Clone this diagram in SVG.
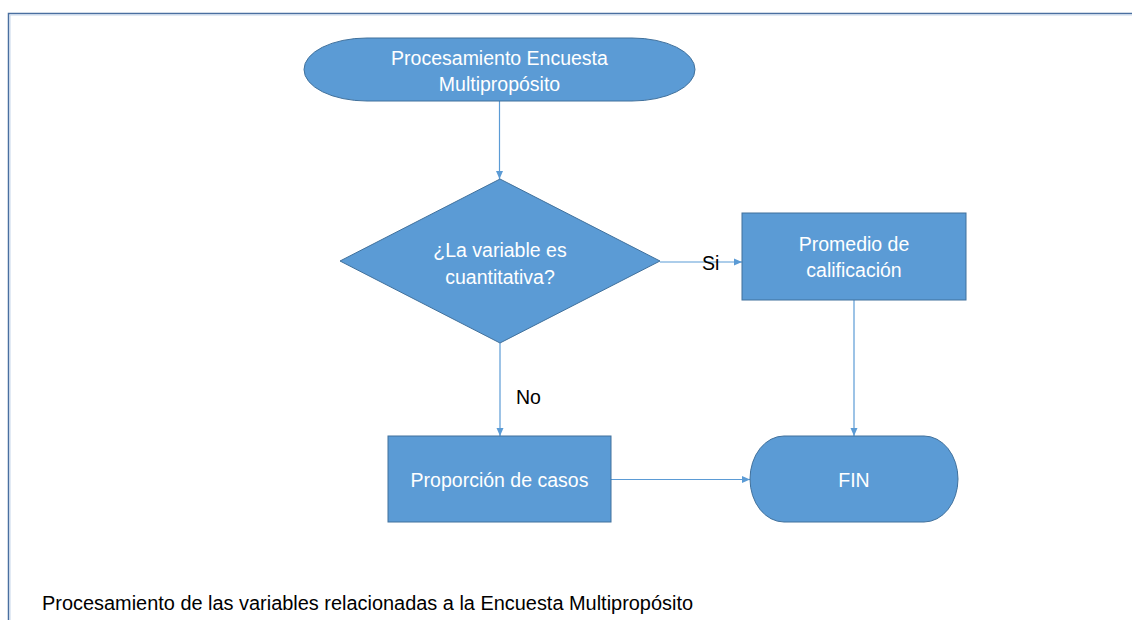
<svg xmlns="http://www.w3.org/2000/svg" width="1132" height="620" viewBox="0 0 1132 620">
<defs>
<marker id="arr" markerWidth="8" markerHeight="8" refX="8" refY="4" orient="auto" markerUnits="userSpaceOnUse">
<path d="M0,0.5 L8,4 L0,7.5 Z" fill="#5B9BD5"/>
</marker>
<style>
.shape{fill:#5B9BD5;stroke:#41719C;stroke-width:1}
.lbl{font-family:"Liberation Sans",Arial,sans-serif;font-size:19.5px;fill:#ffffff;text-anchor:middle}
.blk{font-family:"Liberation Sans",Arial,sans-serif;font-size:19.5px;fill:#000000}
.conn{stroke:#5B9BD5;stroke-width:1.2;fill:none;marker-end:url(#arr)}
</style>
</defs>
<rect width="1132" height="620" fill="#ffffff"/>
<path d="M8.5,620 V13.5 H1132" fill="none" stroke="#4A6FA0" stroke-width="1.5"/>
<path d="M10,620 V15 H1132" fill="none" stroke="#C5D5EA" stroke-width="1"/>

<g id="connectors">
<line class="conn" x1="499.5" y1="101" x2="499.5" y2="179"/>
<line class="conn" x1="660" y1="262" x2="742" y2="262"/>
<line class="conn" x1="500" y1="343" x2="500" y2="436"/>
<line class="conn" x1="854" y1="300" x2="854" y2="436"/>
<line class="conn" x1="611" y1="479.5" x2="750" y2="479.5"/>
<text class="blk" x="702" y="270">Si</text>
<text class="blk" x="516" y="404">No</text>
</g>

<g id="start">
<rect class="shape" x="304" y="38" width="391" height="63" rx="63" ry="31.5"/>
<text class="lbl" x="499.5" y="65">Procesamiento Encuesta</text>
<text class="lbl" x="499.5" y="91">Multipropósito</text>
</g>

<g id="decision">
<polygon class="shape" points="500,179 660,261 500,343 340,261"/>
<text class="lbl" x="500" y="257">¿La variable es</text>
<text class="lbl" x="500" y="284">cuantitativa?</text>
</g>

<g id="promedio">
<rect class="shape" x="742" y="213" width="224" height="87"/>
<text class="lbl" x="854" y="251">Promedio de</text>
<text class="lbl" x="854" y="277">calificación</text>
</g>

<g id="proporcion">
<rect class="shape" x="388" y="436" width="223" height="86"/>
<text class="lbl" x="499.5" y="487">Proporción de casos</text>
</g>

<g id="fin">
<rect class="shape" x="750" y="436" width="208" height="86" rx="34" ry="43"/>
<text class="lbl" x="854" y="487">FIN</text>
</g>

<text class="blk" x="42" y="610" textLength="651" lengthAdjust="spacingAndGlyphs">Procesamiento de las variables relacionadas a la Encuesta Multipropósito</text>
</svg>
